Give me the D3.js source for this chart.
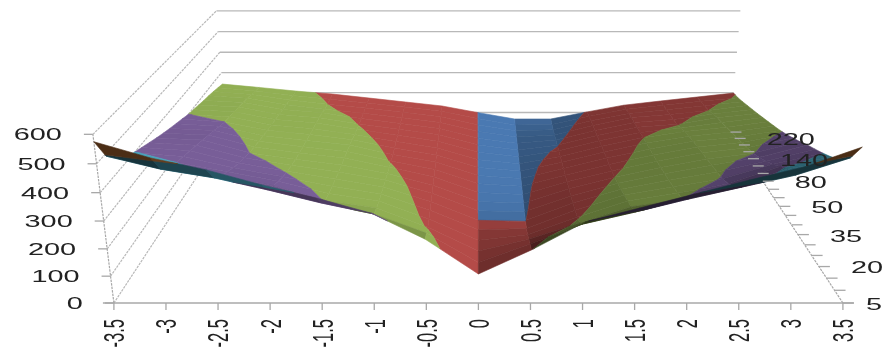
<!DOCTYPE html>
<html>
<head>
<meta charset="utf-8">
<script src="https://cdn.jsdelivr.net/npm/d3@7/dist/d3.min.js"></script>
<style>
html, body { margin: 0; padding: 0; background: #fff; }
svg { display: block; filter: blur(0.5px); }
text { font-family: "Liberation Sans", sans-serif; font-size: 16.5px; fill: #222; }
</style>
</head>
<body>
<div id="chart-area"></div>
<script>
var xCats = ["-3.5", "-3", "-2.5", "-2", "-1.5", "-1", "-0.5", "0", "0.5", "1", "1.5", "2", "2.5", "3", "3.5"];
var depthCats = [5, 10, 15, 20, 25, 30, 35, 40, 45, 50, 60, 70, 80, 100, 120, 140, 160, 190, 220, 250];
var depthLabels = [5, 20, 35, 50, 80, 140, 220];
var zTicks = [0, 100, 200, 300, 400, 500, 600];

// one array per x category, front row (5) to back row (250)
var colM35 = [575, 492, 450, 422, 402, 388, 374, 360, 347, 335, 324, 313, 301, 293, 285, 277, 270, 262, 253, 243];
var colM30 = [520, 446, 420, 400, 388, 376, 364, 352, 340, 326, 313, 300, 292, 284, 276, 268, 258, 248, 237, 226];
var colM25 = [479, 415, 385, 365, 345, 328, 314, 300, 290, 281, 272, 264, 256, 249, 242, 235, 228, 221, 215, 208];
var colM20 = [427, 372, 350, 330, 310, 296, 284, 274, 265, 258, 251, 245, 239, 233, 227, 219, 206, 200, 196, 193];
var colM15 = [381, 325, 296, 284, 274, 265, 257, 250, 244, 238, 232, 222, 213, 205, 198, 192, 187, 182, 178, 173];
var colM10 = [328, 285, 268, 255, 244, 234, 225, 215, 206, 197, 191, 186, 181, 177, 173, 169, 165, 161, 157, 153];
var colM05 = [235, 215, 195, 186, 180, 175, 171, 167, 164, 161, 158, 155, 152, 150, 147, 145, 142, 139, 136, 133];
var colP00 = [108, 106, 105, 104, 103, 100, 99, 99, 99, 99, 99, 99, 99, 99, 99, 99, 99, 99, 99, 99];
var colP05 = [196, 175, 150, 125, 108, 99, 95, 92, 90, 88, 85, 83, 80, 78, 76, 74, 72, 70, 68, 67];
var colP10 = [297, 248, 212, 194, 180, 170, 160, 152, 144, 136, 129, 122, 114, 106, 98, 90, 82, 75, 70, 67];
var colP15 = [346, 292, 272, 255, 240, 225, 212, 200, 190, 182, 175, 168, 160, 152, 144, 136, 128, 120, 111, 103];
var colP20 = [395, 339, 300, 285, 272, 260, 250, 240, 231, 223, 215, 208, 199, 190, 182, 174, 167, 156, 146, 137];
var colP25 = [444, 382, 345, 320, 303, 293, 284, 275, 266, 257, 248, 238, 226, 210, 196, 188, 181, 174, 166, 158];
var colP30 = [490, 425, 412, 385, 358, 335, 316, 298, 287, 276, 266, 256, 246, 236, 226, 213, 200, 193, 186, 178];
var colP35 = [557, 486, 445, 420, 400, 382, 365, 345, 327, 310, 295, 282, 270, 258, 246, 235, 224, 213, 203, 198];
var surface = [colM35, colM30, colM25, colM20, colM15, colM10, colM05, colP00, colP05, colP10, colP15, colP20, colP25, colP30, colP35];

var bandColors = ["#4f81bd", "#c0504d", "#9bbb59", "#8064a2", "#4bacc6", "#f79646"];

var width = 883;
var height = 352;

var svg = d3.select("#chart-area")
    .append("svg")
        .attr("width", width)
        .attr("height", height);

var x = d3.scalePoint().domain(xCats).range([0, 1]);
var y = d3.scalePoint().domain(depthCats).range([0, 1]);
var z = d3.scaleLinear().domain([0, 600]).range([0, 1]);

// perspective box: u across, v into the page, h up
function project(u, v, h) {
    var w = 1 + 0.446 * v - 0.0545 * h;
    return [478.4 + (2 * u - 1) * 364.5 / w, (303 - 112 * v - 176 * h) / w];
}

function pt(d) { return project(d.u, d.v, d.h); }
var line = d3.line();

// walls
var wallColor = "#b8b8b8";
var axisColor = "#a8a8a8";
zTicks.forEach((t) => {
    var h = z(t);
    svg.append("path")
        .attr("d", line([project(0, 0, h), project(0, 1, h)]))
        .attr("fill", "none")
        .attr("stroke", wallColor)
        .attr("stroke-width", 1.2)
        .attr("stroke-dasharray", "2.5 1");
    svg.append("path")
        .attr("d", line([project(0, 1, h), project(1, 1, h)]))
        .attr("fill", "none")
        .attr("stroke", wallColor)
        .attr("stroke-width", 1.3);
});

svg.append("path")
    .attr("d", line([project(0, 0, 0), project(0, 0, 1)]))
    .attr("fill", "none")
    .attr("stroke", axisColor)
    .attr("stroke-width", 1.2)
    .attr("stroke-dasharray", "2.5 1");
svg.append("path")
    .attr("d", line([project(1, 0, 0), project(1, 1, 0)]))
    .attr("fill", "none")
    .attr("stroke", axisColor)
    .attr("stroke-width", 1.2)
    .attr("stroke-dasharray", "2.5 1");

// keep the part of a cell between two heights
function clip(poly, lo, keepAbove) {
    var out = [];
    poly.forEach((a, i) => {
        var b = poly[(i + 1) % poly.length];
        var aIn = keepAbove ? a.val >= lo : a.val <= lo;
        var bIn = keepAbove ? b.val >= lo : b.val <= lo;
        if (aIn) out.push(a);
        if (aIn !== bIn) {
            var t = (lo - a.val) / (b.val - a.val);
            out.push({
                u: a.u + (b.u - a.u) * t,
                v: a.v + (b.v - a.v) * t,
                h: a.h + (b.h - a.h) * t,
                val: lo
            });
        }
    });
    return out;
}

function corner(i, j) {
    var val = surface[i][j];
    return { u: x(xCats[i]), v: y(depthCats[j]), h: z(val), val: val };
}

// left slopes stay bright and flat, right slopes go dark, the front fold is seen from below
function shade(i, j) {
    var s = surface;
    var zx = ((s[i + 1][j] + s[i + 1][j + 1]) - (s[i][j] + s[i][j + 1])) / 2 * 0.28 / 52;
    var zv = ((s[i][j + 1] + s[i + 1][j + 1]) - (s[i][j] + s[i + 1][j])) / 2 * 0.28 / 20;
    var k = 0.81 - 0.13 * Math.tanh(zx * 25) - 0.35 * Math.max(0, zx - 0.12) - 0.75 * Math.max(0, -zv - 0.25);
    return Math.max(0.3, Math.min(1, k));
}

// back rows first, outer columns before the middle
var surfaceG = svg.append("g");
var columns = d3.range(xCats.length - 1).sort((a, b) => Math.abs(b - 6.5) - Math.abs(a - 6.5));
d3.range(depthCats.length - 2, -1, -1).forEach((j) => {
    columns.forEach((i) => {
        var quad = [corner(i, j), corner(i + 1, j), corner(i + 1, j + 1), corner(i, j + 1)];
        var k = shade(i, j);
        bandColors.forEach((col, b) => {
            var part = clip(clip(quad, b * 100, true), (b + 1) * 100, false);
            if (part.length < 3) return;
            var c = d3.rgb(col);
            var fill = d3.rgb(c.r * k, c.g * k, c.b * k).formatHex();
            surfaceG.append("path")
                .attr("d", line(part.map(pt)) + "Z")
                .attr("fill", fill)
                .attr("stroke", fill)
                .attr("stroke-width", 0.6);
        });
    });
});

// axes and labels
var stretch = "scale(1.75,1)";

var p0 = project(0, 0, 0);
var p1 = project(1, 0, 0);
svg.append("path")
    .attr("d", line([[p0[0] - 11, p0[1]], [p1[0] + 11, p1[1]]]))
    .attr("fill", "none")
    .attr("stroke", axisColor)
    .attr("stroke-width", 1.3);

xCats.forEach((c) => {
    var p = project(x(c), 0, 0);
    svg.append("path")
        .attr("d", line([p, [p[0], p[1] + 7]]))
        .attr("stroke", axisColor)
        .attr("stroke-width", 1.3);
    svg.append("text")
        .attr("transform", "translate(" + p[0] + ",319) " + stretch + " rotate(-90)")
        .attr("text-anchor", "end")
        .attr("dy", "0.36em")
        .text(c);
});

zTicks.forEach((t) => {
    var p = project(0, 0, z(t));
    svg.append("path")
        .attr("d", line([p, [p[0] - 9, p[1]]]))
        .attr("stroke", axisColor)
        .attr("stroke-width", 1.3);
    svg.append("text")
        .attr("transform", "translate(" + (p[0] - 31) + "," + p[1] + ") " + stretch)
        .attr("text-anchor", "end")
        .attr("dy", "0.36em")
        .text(t);
});

depthCats.forEach((c) => {
    var p = project(1, y(c), 0);
    svg.append("path")
        .attr("d", line([p, [p[0] + 11, p[1]]]))
        .attr("stroke", axisColor)
        .attr("stroke-width", 1.3);
    if (depthLabels.indexOf(c) >= 0) {
        svg.append("text")
            .attr("transform", "translate(" + (p[0] + (c === 5 ? 23 : 32)) + "," + (p[1] + 1) + ") " + stretch)
            .attr("dy", "0.36em")
            .text(c);
    }
});
</script>
</body>
</html>
